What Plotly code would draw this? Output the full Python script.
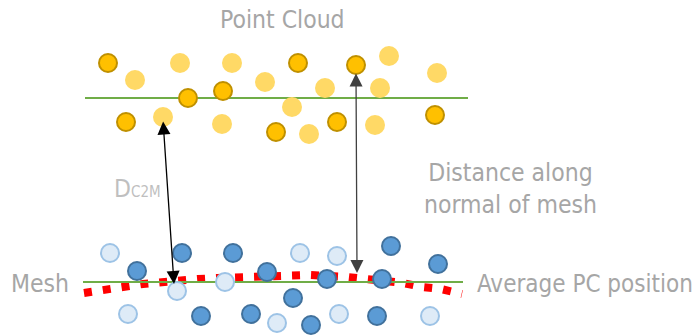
import plotly.graph_objects as go

W, H = 698, 336

# Point cloud (yellow) – dark (outlined) and light points, in picture coordinates
pc_dark_x = [108, 188, 223, 298, 356, 126, 276, 337, 435]
pc_dark_y = [63, 98, 91, 63, 65, 122, 132, 122, 115]
pc_light_x = [135, 180, 232, 265, 325, 389, 380, 437, 163, 222, 292, 309, 375]
pc_light_y = [80, 63, 63, 82, 88, 56, 88, 73, 117, 124, 107, 134, 125]

# Mesh points (blue)
mesh_dark_x = [137, 182, 233, 267, 201, 251, 391, 438, 327, 382, 293, 311, 377]
mesh_dark_y = [271, 253, 253, 272, 316, 314, 246, 264, 279, 279, 298, 325, 316]
mesh_light_x = [110, 177, 225, 128, 277, 300, 337, 339, 430]
mesh_light_y = [253, 291, 282, 314, 323, 253, 256, 314, 316]

# Horizontal reference lines
pc_line_x = [85, 468]
pc_line_y = [98, 98]
mesh_line_x = [83, 463]
mesh_line_y = [282, 282]

# Average PC position curve
avg_x = [84, 105, 123, 143, 162, 180, 198, 217, 236, 255, 292, 311, 348, 367, 403, 422, 441, 462]
avg_y = [293, 289, 287, 284, 282, 279, 279, 278, 277, 276, 275, 275, 277, 279, 283, 287, 289, 294]

# Arrows (start -> end)
arrow1 = dict(x0=163, y0=120, x1=174, y1=284)
arrow2 = dict(x0=356, y0=72, x1=357, y1=273)

FONT = "DejaVu Sans Condensed, Liberation Sans Narrow, Roboto, sans-serif"
GRAY = "#A6A6A6"

fig = go.Figure()
fig.add_trace(go.Scatter(x=avg_x, y=avg_y, mode="lines",
                         line=dict(color="#FF0000", width=8, dash="8px,11px"),
                         hoverinfo="skip"))
fig.add_trace(go.Scatter(x=pc_line_x, y=pc_line_y, mode="lines",
                         line=dict(color="#70AD47", width=2), hoverinfo="skip"))
fig.add_trace(go.Scatter(x=mesh_line_x, y=mesh_line_y, mode="lines",
                         line=dict(color="#70AD47", width=2), hoverinfo="skip"))
fig.add_trace(go.Scatter(x=pc_light_x, y=pc_light_y, mode="markers",
                         marker=dict(size=20, color="#FFD966", line=dict(width=0))))
fig.add_trace(go.Scatter(x=pc_dark_x, y=pc_dark_y, mode="markers",
                         marker=dict(size=18, color="#FFC000", line=dict(width=2, color="#BF9000"))))
fig.add_trace(go.Scatter(x=mesh_light_x, y=mesh_light_y, mode="markers",
                         marker=dict(size=18, color="#DEEBF7", line=dict(width=2, color="#9DC3E6"))))
fig.add_trace(go.Scatter(x=mesh_dark_x, y=mesh_dark_y, mode="markers",
                         marker=dict(size=18, color="#5B9BD5", line=dict(width=2, color="#41719C"))))

for a, col in [(arrow1, "#000000"), (arrow2, "#404040")]:
    fig.add_annotation(x=a["x1"], y=a["y1"], ax=a["x0"], ay=a["y0"],
                       xref="x", yref="y", axref="x", ayref="y",
                       showarrow=True, arrowhead=2, startarrowhead=2,
                       arrowside="end+start", arrowsize=2, startarrowsize=2,
                       arrowwidth=1.3, arrowcolor=col, standoff=0, startstandoff=0, text="")

def label(text, x, y, xanchor="center", size=24.5, color=GRAY):
    fig.add_annotation(x=x, y=y, xref="x", yref="y", text=text, showarrow=False,
                       xanchor=xanchor, yanchor="middle",
                       font=dict(family=FONT, size=size, color=color))

label("Point Cloud", 282, 19)
label("Distance along<br>normal of mesh", 510, 188)
label("Mesh", 9, 283, xanchor="left")
label("Average PC position", 475, 284, xanchor="left", size=24)
label("D<span style='font-size:15px'>C2M</span>", 112, 188, xanchor="left", color="#BFBFBF")

fig.update_layout(width=W, height=H, margin=dict(l=0, r=0, t=0, b=0),
                  paper_bgcolor="white", plot_bgcolor="white", showlegend=False,
                  hovermode=False,
                  xaxis=dict(range=[0, W], visible=False, fixedrange=True),
                  yaxis=dict(range=[H, 0], visible=False, fixedrange=True))
fig.write_html("out.html", config={"displayModeBar": False, "staticPlot": True},
               post_script="document.body.style.margin='0';document.body.style.overflow='hidden';")
